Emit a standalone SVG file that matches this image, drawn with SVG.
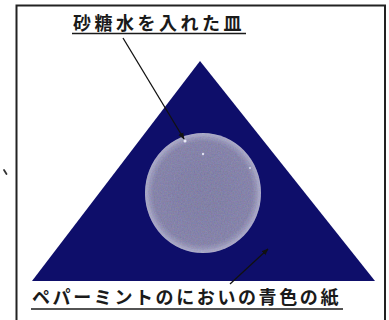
<svg xmlns="http://www.w3.org/2000/svg" width="389" height="320" viewBox="0 0 389 320">
  <style>
    .label { font-family: "Noto Sans CJK JP", "Noto Sans", sans-serif; font-weight: 700; fill: #1a1a1a; font-size: 18px; }
    .rule { stroke: #1a1a1a; stroke-width: 1.6; fill: none; }
    .lead { stroke: #111; stroke-width: 1.3; fill: none; }
  </style>
  <defs>
    <marker id="arrow" viewBox="0 0 10 10" refX="9" refY="5" markerWidth="7" markerHeight="7" orient="auto" markerUnits="userSpaceOnUse">
      <path d="M0,1 L10,5 L0,9 Z" fill="#111"/>
    </marker>
    <radialGradient id="plateFill" cx="50%" cy="50%" r="50%">
      <stop offset="0" stop-color="#73739c"/>
      <stop offset="0.85" stop-color="#7a79a2"/>
      <stop offset="0.94" stop-color="#9696b8"/>
      <stop offset="1" stop-color="#b0b0cc"/>
    </radialGradient>
    <filter id="grain" x="0" y="0" width="100%" height="100%">
      <feTurbulence type="fractalNoise" baseFrequency="0.7" numOctaves="2" seed="5" result="n"/>
      <feColorMatrix in="n" type="matrix" values="0.6 0 0 0 0.1  0 0.55 0 0 0.1  0 0 0.9 0 0.1  0 0 0 0 0.22" result="tint"/>
      <feComposite in="tint" in2="SourceGraphic" operator="in" result="t"/>
      <feMerge><feMergeNode in="SourceGraphic"/><feMergeNode in="t"/></feMerge>
    </filter>
  </defs>

  <rect width="389" height="320" fill="#ffffff"/>

  <!-- outer frame, open at the bottom -->
  <path d="M16.5,320 V5.5 H385 V320" fill="none" stroke="#222" stroke-width="2"/>

  <!-- stray mark at left margin -->
  <path d="M4,170 L6.5,174" stroke="#333" stroke-width="1.8" stroke-linecap="round"/>

  <!-- blue peppermint paper -->
  <g id="paper">
    <polygon points="200,61 375,281 32,281" fill="#0e0e6a"/>
  </g>

  <!-- dish with sugar water -->
  <g id="dish">
    <ellipse cx="203" cy="193" rx="58" ry="60" fill="url(#plateFill)" filter="url(#grain)"/>
    <ellipse cx="203" cy="193" rx="55.5" ry="57.5" fill="none" stroke="#a9a8c8" stroke-width="0.8" opacity="0.6"/>
    <circle cx="185" cy="141" r="1.5" fill="#e8e8f4"/>
    <circle cx="203" cy="154" r="1.2" fill="#e0e0f0"/>
    <circle cx="250" cy="168" r="1" fill="#dcdcee"/>
  </g>

  <!-- labels -->
  <g id="label-dish">
    <text class="label" x="73" y="30" letter-spacing="3.5">砂糖水を入れた皿</text>
    <line class="rule" x1="72" y1="33.5" x2="246" y2="33.5"/>
  </g>
  <g id="label-paper">
    <text class="label" x="32" y="304" letter-spacing="2.6">ペパーミントのにおいの青色の紙</text>
    <line class="rule" x1="31" y1="309" x2="343" y2="309"/>
  </g>

  <!-- leader lines -->
  <g id="connectors">
    <line class="lead" x1="123" y1="38" x2="184" y2="139" marker-end="url(#arrow)"/>
    <line class="lead" x1="230" y1="284" x2="268" y2="249" marker-end="url(#arrow)"/>
  </g>
</svg>
